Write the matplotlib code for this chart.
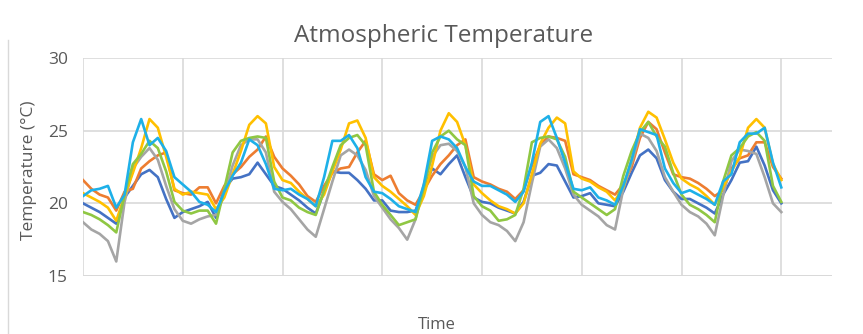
import matplotlib
matplotlib.use("Agg")
import matplotlib.pyplot as plt
import numpy as np
from matplotlib.lines import Line2D

# 2-hourly samples, 7 days (85 points); day boundaries every 12 samples
blue = [20.0, 19.7, 19.4, 19.0, 18.6, 20.4, 21.2, 22.0, 22.3, 21.8, 20.3, 19.0,
        19.4, 19.6, 19.8, 20.1, 19.0, 21.0, 21.7, 21.8, 22.0, 22.8, 22.0, 21.2,
        21.0, 20.6, 20.2, 19.7, 19.3, 20.8, 22.2, 22.1, 22.1, 21.6, 21.0, 20.2,
        20.2, 19.5, 19.4, 19.4, 19.5, 21.0, 22.4, 22.0, 22.7, 23.3, 21.8, 20.4,
        20.1, 20.0, 19.7, 19.5, 19.3, 20.1, 21.9, 22.1, 22.7, 22.6, 21.5, 20.4,
        20.5, 20.7, 20.0, 19.9, 19.8, 20.8, 22.1, 23.3, 23.7, 23.1, 21.6, 20.8,
        20.3, 20.3, 20.0, 19.7, 19.3, 20.6, 21.6, 22.8, 22.9, 23.9, 22.6, 20.9,
        20.0]
orange = [21.6, 21.0, 20.6, 20.4, 19.5, 20.8, 21.0, 22.4, 22.9, 23.3, 23.5, 20.9,
          20.7, 20.6, 21.1, 21.1, 20.0, 21.2, 22.0, 22.5, 23.2, 23.7, 24.6, 23.2,
          22.4, 21.9, 21.3, 20.5, 20.1, 21.2, 22.1, 22.4, 22.5, 23.5, 24.3, 22.0,
          21.6, 21.9, 20.7, 20.2, 19.9, 20.9, 21.9, 22.7, 23.3, 24.0, 24.4, 21.8,
          21.5, 21.3, 21.0, 20.8, 20.3, 20.9, 22.6, 24.0, 24.6, 24.5, 24.3, 22.0,
          21.8, 21.6, 21.2, 20.9, 20.6, 21.3, 22.5, 24.5, 25.6, 25.1, 23.5, 22.0,
          21.8, 21.7, 21.4, 21.0, 20.5, 20.9, 22.4, 23.1, 23.3, 24.2, 24.2, 22.5,
          21.7]
gray = [18.7, 18.2, 17.9, 17.4, 16.0, 20.1, 22.4, 23.2, 23.8, 23.0, 21.2, 19.6,
        18.8, 18.6, 18.9, 19.1, 19.2, 20.6, 22.6, 24.0, 24.4, 24.4, 23.5, 20.8,
        20.1, 19.6, 18.9, 18.2, 17.7, 19.6, 21.5, 23.3, 23.7, 23.3, 22.3, 20.5,
        19.7, 18.9, 18.3, 17.5, 18.9, 21.3, 23.2, 24.0, 24.1, 23.6, 22.5, 20.0,
        19.2, 18.7, 18.5, 18.1, 17.4, 18.7, 21.4, 23.9, 24.4, 23.8, 22.4, 20.6,
        19.9, 19.5, 19.1, 18.5, 18.2, 21.0, 22.8, 24.8, 24.5, 23.6, 21.8, 20.8,
        19.9, 19.4, 19.1, 18.6, 17.8, 20.5, 22.9, 23.7, 23.6, 23.4, 21.8, 20.0,
        19.4]
yellow = [20.7, 20.4, 20.1, 19.7, 18.8, 20.5, 22.1, 23.8, 25.8, 25.2, 23.2, 21.0,
          20.6, 20.8, 20.7, 20.6, 19.6, 20.4, 22.0, 23.6, 25.4, 26.0, 25.5, 22.5,
          21.6, 21.4, 20.8, 20.3, 19.8, 20.6, 22.2, 23.7, 25.5, 25.7, 24.5, 21.8,
          21.2, 20.8, 20.3, 19.8, 19.2, 20.5, 22.6, 25.0, 26.2, 25.6, 24.0, 21.3,
          20.7, 20.2, 19.8, 19.6, 19.3, 20.0, 22.0, 24.1, 25.2, 25.9, 25.5, 22.2,
          21.7, 21.5, 21.1, 20.8, 20.2, 21.1, 23.0, 25.2, 26.3, 25.9, 24.4, 22.8,
          21.7, 21.3, 21.0, 20.5, 19.9, 21.1, 22.2, 23.2, 25.2, 25.8, 25.2, 22.7,
          21.6]
cyan = [20.5, 20.9, 21.0, 21.2, 19.7, 20.6, 24.2, 25.8, 24.0, 24.5, 23.6, 21.8,
        21.3, 20.8, 20.1, 19.9, 19.4, 20.8, 21.9, 22.8, 24.4, 24.0, 22.7, 21.0,
        20.9, 21.0, 20.6, 20.3, 19.8, 21.8, 24.3, 24.3, 24.7, 23.8, 21.8, 20.8,
        20.7, 20.3, 19.8, 19.6, 19.4, 21.3, 24.3, 24.6, 24.4, 23.8, 22.5, 21.5,
        21.2, 21.2, 20.9, 20.6, 20.1, 20.8, 22.8, 25.6, 26.0, 24.5, 22.8, 21.0,
        20.9, 21.1, 20.4, 20.2, 19.9, 21.2, 23.0, 25.1, 24.9, 24.7, 22.4, 21.4,
        20.7, 20.9, 20.6, 20.3, 19.9, 21.5, 22.0, 24.2, 24.8, 24.8, 25.2, 22.8,
        21.1]
green = [19.4, 19.2, 18.9, 18.5, 18.0, 20.6, 22.7, 23.4, 24.3, 23.8, 22.2, 20.1,
         19.5, 19.3, 19.5, 19.5, 18.6, 21.0, 23.5, 24.3, 24.5, 24.6, 24.5, 21.5,
         20.4, 20.2, 19.7, 19.4, 19.2, 20.9, 22.5, 24.0, 24.5, 24.7, 24.0, 20.8,
         19.9, 19.2, 18.5, 18.7, 18.9, 21.1, 23.5, 24.6, 25.0, 24.4, 24.0, 20.5,
         19.8, 19.5, 18.8, 18.9, 19.2, 21.0, 24.2, 24.5, 24.6, 24.4, 23.2, 20.8,
         20.4, 20.0, 19.6, 19.2, 19.6, 21.9, 23.6, 24.9, 25.6, 24.6, 23.9, 22.1,
         20.6, 19.9, 19.6, 19.2, 18.7, 21.5, 23.3, 23.8, 24.6, 24.9, 24.3, 21.2,
         20.1]

series = [blue, orange, gray, yellow, green, cyan]
colors = ["#4472C4", "#ED7D31", "#A5A5A5", "#FFC000", "#8FC743", "#1EB0E8"]

title = "Atmospheric Temperature"
ylabel = "Temperature (°C)"
xlabel = "Time"
yticks = [15, 20, 25, 30]

plt.rcParams['font.family'] = ['Open Sans', 'DejaVu Sans']
txt = "#595959"
grid_c = "#D9D9D9"

fig = plt.figure(figsize=(8.63, 3.34), dpi=100)
ax = fig.add_axes([83/863, (334-276)/334, (832-83)/863, (276-58)/334])

x = np.arange(len(blue))
for s, c in zip(series, colors):
    ax.plot(x, s, color=c, lw=1.9, solid_joinstyle='round', zorder=3)

ax.set_xlim(0, 90.1)
ax.set_ylim(15, 30)
ax.set_yticks(yticks)
ax.set_xticks(np.arange(0, len(blue), 12))
ax.set_xticklabels([])
ax.grid(True, color=grid_c, lw=1.2, zorder=0)
for sp in ax.spines.values():
    sp.set_visible(False)
ax.axhline(15, color=grid_c, lw=1.3, zorder=1)
ax.tick_params(axis='both', length=0, labelsize=12.5, labelcolor=txt)
ax.tick_params(axis='y', pad=11)

fig.text(444/863, 1 - 36/334, title, ha='center', va='center', fontsize=17.5, color=txt)
fig.text(29/863, 1 - 170/334, ylabel, ha='center', va='center', rotation=90, fontsize=12.5, color=txt)
fig.text(437/863, 1 - 325/334, xlabel, ha='center', va='center', fontsize=12, color=txt)

fig.add_artist(Line2D([8/863, 8/863], [0, 1 - 40/334], transform=fig.transFigure, color=grid_c, lw=1.0))

fig.savefig("out.png", dpi=100)
